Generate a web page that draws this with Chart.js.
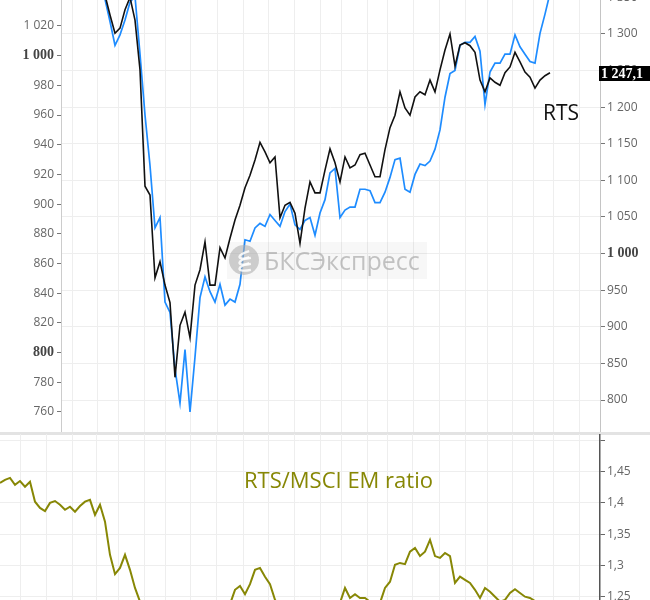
<!DOCTYPE html>
<html lang="ru">
<head>
<meta charset="utf-8">
<title>RTS vs MSCI EM</title>
<script src="https://cdn.jsdelivr.net/npm/chart.js@4.4.1/dist/chart.umd.min.js"></script>
<style>
  html, body { margin: 0; padding: 0; background: #fff; overflow: hidden; width: 650px; height: 600px; }
  #top { position: absolute; left: 0; top: -30px; }
  #bottom { position: absolute; left: 0; top: 434px; }
  .sep { position: absolute; left: 0; top: 432px; width: 650px; height: 3px; background: #e3e3e3; }
</style>
</head>
<body>
<canvas id="top" width="650" height="462"></canvas>
<div class="sep"></div>
<canvas id="bottom" width="650" height="200"></canvas>
<script>
// x = trading session number; top panel series start at session 20
const topFirstDay = 20;

const rts = [1374, 1353, 1326, 1301, 1308, 1333, 1350, 1319, 1251, 1092,
             1080, 967, 989, 957, 933, 831, 902, 920, 885, 957,
             978, 1016, 957, 957, 1008, 994, 1021, 1046, 1066, 1090,
             1107, 1128, 1152, 1139, 1124, 1132, 1049, 1066, 1070, 1055,
             1014, 1062, 1098, 1083, 1083, 1114, 1143, 1124, 1098, 1132,
             1117, 1121, 1135, 1137, 1121, 1105, 1105, 1142, 1172, 1189,
             1221, 1199, 1189, 1214, 1221, 1217, 1237, 1221, 1251, 1278,
             1300, 1256, 1285, 1288, 1284, 1275, 1237, 1221, 1240, 1234,
             1230, 1247, 1255, 1275, 1262, 1248, 1241, 1226, 1237, 1243, 1247.1];

const msciEm = [1048, 1038, 1023, 1007, 1014, 1024, 1036, 1040, 1001, 960,
                926, 884, 891, 834, 827, 789, 766, 802, 760, 797,
                837, 851, 841, 834, 846, 832, 836, 834, 846, 876,
                875, 884, 887, 885, 893, 889, 885, 895, 900, 886,
                883, 889, 891, 879, 894, 903, 921, 924, 891, 896,
                898, 898, 910, 910, 909, 901, 901, 908, 918, 930,
                931, 910, 908, 920, 927, 926, 929, 937, 950, 972,
                988, 990, 1007, 1009, 1009, 1013, 1003, 967, 989, 995,
                995, 1001, 1001, 1014, 1006, 1001, 996, 995, 1015, 1028, 1042];

const ratio = [1.432, 1.437, 1.440, 1.429, 1.435, 1.426, 1.434, 1.402, 1.392, 1.387,
               1.400, 1.403, 1.397, 1.389, 1.394, 1.386, 1.395, 1.402, 1.405, 1.381,
               1.397, 1.370, 1.317, 1.286, 1.296, 1.317, 1.293, 1.264, 1.242, 1.221,
               1.210, 1.205, 1.197, 1.200, 1.189, 1.197, 1.200, 1.194, 1.205, 1.197,
               1.200, 1.210, 1.205, 1.216, 1.221, 1.229, 1.238, 1.261, 1.267, 1.254,
               1.270, 1.293, 1.296, 1.282, 1.270, 1.245, 1.232, 1.226, 1.229, 1.221,
               1.226, 1.229, 1.221, 1.226, 1.232, 1.226, 1.229, 1.235, 1.240, 1.264,
               1.248, 1.254, 1.248, 1.248, 1.242, 1.237, 1.240, 1.264, 1.274, 1.301,
               1.304, 1.302, 1.322, 1.328, 1.315, 1.322, 1.341, 1.315, 1.312, 1.320,
               1.315, 1.272, 1.282, 1.277, 1.272, 1.261, 1.248, 1.264, 1.258, 1.250,
               1.242, 1.245, 1.256, 1.262, 1.256, 1.250, 1.248, 1.243, 1.240, 1.237, 1.235];

// weekly grid lines (session numbers)
const gridDays = [4, 9.2, 14.4, 19.4, 23.6, 28.8, 33, 38, 43.4, 48.6, 53.6, 58.8,
                  64, 68.2, 73.4, 77.6, 82.6, 87.8, 93, 97.4, 102.4, 106.6, 110.6, 115.8];

const leftTicks = [760, 780, 800, 820, 840, 860, 880, 900, 920, 940, 960, 980, 1000, 1020, 1040];
const rightTicks = [800, 850, 900, 950, 1000, 1050, 1100, 1150, 1200, 1250, 1300, 1350];
const ratioTicks = [1.2, 1.25, 1.3, 1.35, 1.4, 1.45, 1.5];

const OLIVE = '#878705';
const sans = '"Open Sans", "Liberation Sans", sans-serif';

function fmt(v, dec) {
    const parts = v.toFixed(dec).split('.');
    return parts[0].replace(/\B(?=(\d{3})+(?!\d))/g, ' ') + (parts[1] ? ',' + parts[1] : '');
}
const ratioLabel = v => v >= 1.5 ? '' : String(+v.toFixed(2)).replace('.', ',');

const tickFont = { family: sans, size: 12 };
const boldFont = { family: '"Liberation Serif", serif', size: 14, weight: 'bold' };

function pinWidth(w) {
    return s => { s.width = w; s.paddingTop = 0; s.paddingBottom = 0; };
}
function flatX(s) {
    s.height = 0; s.paddingLeft = 0; s.paddingRight = 0;
}
function setTicks(list) {
    return s => { s.ticks = list.filter(v => v >= s.min && v <= s.max).map(value => ({ value })); };
}

const toPoints = (arr, first) => arr.map((y, i) => ({ x: first + i, y }));

// watermark, RTS label and last value box
const topDecor = {
    id: 'topDecor',
    afterDatasetsDraw(chart) {
        const ctx = chart.ctx;
        ctx.save();
        ctx.fillStyle = 'rgba(0,0,0,0.03)';
        ctx.fillRect(227, 272, 200, 37);
        const cx = 244, cy = 290;
        ctx.fillStyle = 'rgba(175,175,175,0.6)';
        ctx.beginPath();
        ctx.arc(cx, cy, 15, 0, Math.PI * 2);
        ctx.fill();
        ctx.strokeStyle = 'rgba(255,255,255,0.85)';
        ctx.lineWidth = 2.2;
        for (const dy of [-6, 0, 6]) {
            ctx.beginPath();
            ctx.ellipse(cx + 8, cy + dy, 13, 3.5, -0.25, Math.PI * 0.55, Math.PI * 1.45);
            ctx.stroke();
        }
        ctx.fillStyle = 'rgba(170,170,170,0.7)';
        ctx.font = '25px ' + sans;
        ctx.textBaseline = 'alphabetic';
        ctx.fillText('БКСЭкспресс', 264, 300);
        ctx.restore();
    },
    afterDraw(chart) {
        const ctx = chart.ctx;
        const yR = chart.scales.yR;
        const last = rts[rts.length - 1];
        const y = Math.round(yR.getPixelForValue(last));
        ctx.save();
        ctx.fillStyle = '#000';
        ctx.fillRect(yR.left - 1, y - 7, 60, 15);
        ctx.fillStyle = '#fff';
        ctx.font = 'bold 14px "Liberation Serif", serif';
        ctx.textBaseline = 'middle';
        ctx.fillText(fmt(last, 1), yR.left + 1, y + 1);
        ctx.fillStyle = '#111';
        ctx.font = '21px ' + sans;
        ctx.textBaseline = 'alphabetic';
        ctx.fillText('RTS', 543, 150);
        ctx.restore();
    }
};

const bottomDecor = {
    id: 'bottomDecor',
    afterDatasetsDraw(chart) {
        const ctx = chart.ctx;
        ctx.save();
        ctx.fillStyle = OLIVE;
        ctx.font = '22px ' + sans;
        ctx.fillText('RTS/MSCI EM ratio', 244, 54);
        ctx.restore();
    }
};

Chart.defaults.animation = false;

new Chart(document.getElementById('top'), {
    type: 'line',
    data: {
        datasets: [
            { label: 'RTS', data: toPoints(rts, topFirstDay), yAxisID: 'yR',
              borderColor: '#111', borderWidth: 1.6, pointRadius: 0, tension: 0 },
            { label: 'MSCI EM', data: toPoints(msciEm, topFirstDay), yAxisID: 'yL',
              borderColor: '#1e8cff', borderWidth: 1.7, pointRadius: 0, tension: 0 }
        ]
    },
    options: {
        responsive: false,
        devicePixelRatio: 1,
        layout: { padding: 0 },
        events: [],
        plugins: { legend: { display: false }, tooltip: { enabled: false } },
        scales: {
            x: {
                type: 'linear', min: 12.2, max: 120,
                ticks: { display: false },
                border: { display: false },
                grid: { color: '#eeeeee', drawTicks: false },
                afterBuildTicks: setTicks(gridDays),
                afterFit: flatX
            },
            yL: {
                position: 'left', min: 746.5, max: 1057.7,
                afterBuildTicks: setTicks(leftTicks),
                afterFit: pinWidth(61),
                grid: { drawOnChartArea: false, tickColor: '#777', tickLength: 4 },
                border: { color: '#cccccc' },
                ticks: {
                    padding: 3,
                    callback: v => fmt(v, 0),
                    font: c => (c.tick && (c.tick.value === 1000 || c.tick.value === 800)) ? boldFont : tickFont,
                    color: c => (c.tick && (c.tick.value === 1000 || c.tick.value === 800)) ? '#444' : '#666'
                }
            },
            yR: {
                position: 'right', min: 756.3, max: 1387.4,
                afterBuildTicks: setTicks(rightTicks),
                afterFit: pinWidth(50),
                grid: { color: '#eeeeee', tickColor: '#777', tickLength: 5 },
                border: { color: '#c4c4c4' },
                ticks: {
                    padding: 2,
                    callback: v => fmt(v, 0),
                    font: c => (c.tick && c.tick.value === 1000) ? boldFont : tickFont,
                    color: c => (c.tick && c.tick.value === 1000) ? '#444' : '#666'
                }
            }
        }
    },
    plugins: [topDecor]
});

new Chart(document.getElementById('bottom'), {
    type: 'line',
    data: {
        datasets: [
            { label: 'RTS/MSCI EM ratio', data: toPoints(ratio, 0),
              borderColor: OLIVE, borderWidth: 2, pointRadius: 0, tension: 0 }
        ]
    },
    options: {
        responsive: false,
        devicePixelRatio: 1,
        layout: { padding: 0 },
        events: [],
        plugins: { legend: { display: false }, tooltip: { enabled: false } },
        scales: {
            x: {
                type: 'linear', min: 0, max: 120,
                ticks: { display: false },
                border: { display: false },
                grid: { color: '#eeeeee', drawTicks: false },
                afterBuildTicks: setTicks(gridDays),
                afterFit: flatX
            },
            y: {
                position: 'right', min: 1.1903, max: 1.5103,
                afterBuildTicks: setTicks(ratioTicks),
                afterFit: pinWidth(50),
                grid: { color: '#eeeeee', tickColor: '#666', tickLength: 5 },
                border: { color: '#555', width: 1.5 },
                ticks: { padding: 2, callback: ratioLabel, font: tickFont, color: '#666' }
            }
        }
    },
    plugins: [bottomDecor]
});
</script>
</body>
</html>
